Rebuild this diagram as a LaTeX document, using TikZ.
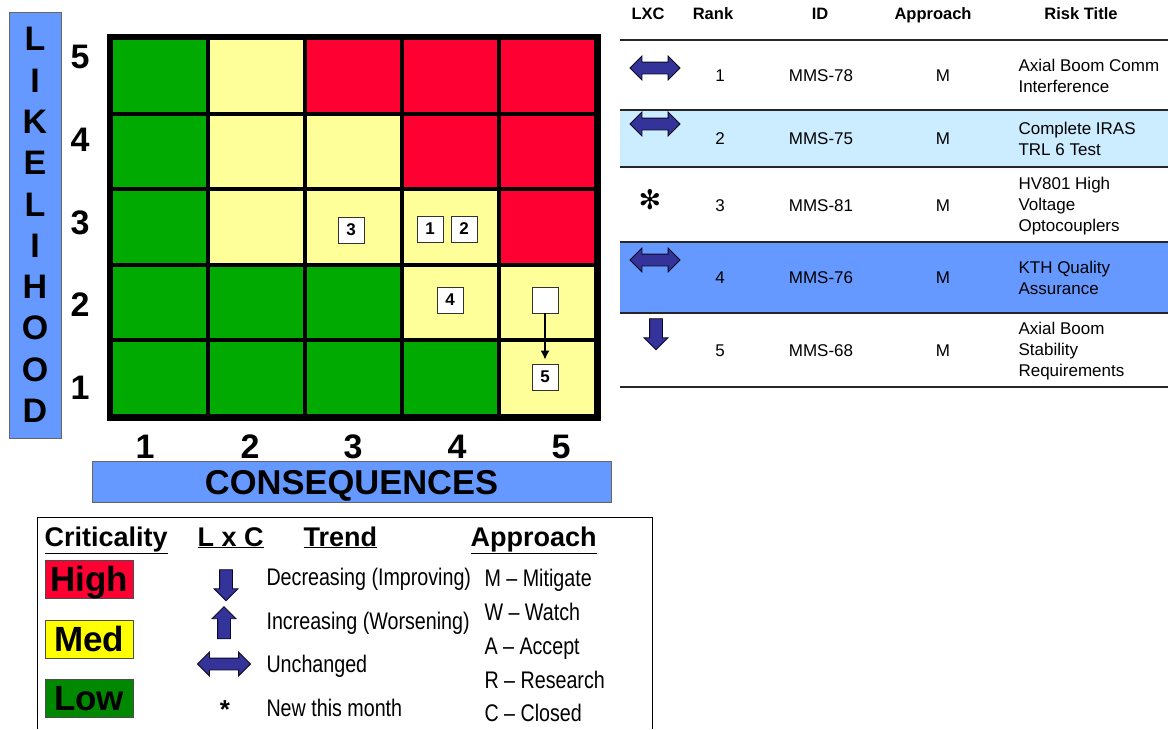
\documentclass[tikz,border=0pt]{standalone}
\usepackage{fontspec}
\setmainfont{Liberation Sans}
\newfontfamily\narrowfont[FakeStretch=0.82]{Liberation Sans}
\newfontfamily\symbolfont{DejaVu Sans}
\usetikzlibrary{shapes.arrows,arrows.meta,positioning}

\definecolor{lowc}{RGB}{0,170,0}
\definecolor{medc}{RGB}{255,255,153}
\definecolor{highc}{RGB}{255,0,51}
\definecolor{barblue}{RGB}{102,153,255}
\definecolor{paleblue}{RGB}{204,236,255}
\definecolor{trendc}{RGB}{51,51,153}
\definecolor{legyel}{RGB}{255,255,0}
\definecolor{leggrn}{RGB}{0,136,0}

\tikzset{
  cell/.style={draw=black, line width=4, minimum width=97, minimum height=75.6, inner sep=0},
  riskbox/.style={draw=black!80, fill=white, line width=0.8, minimum size=26, inner sep=0,
    font=\bfseries\fontsize{17}{17}\selectfont},
  axisnum/.style={font=\bfseries\fontsize{34}{34}\selectfont},
  axisbar/.style={draw=black!60, fill=barblue, line width=0.8, inner sep=0},
  thead/.style={font=\bfseries\fontsize{16.5}{16.5}\selectfont, anchor=base},
  tcell/.style={font=\fontsize{17}{21}\selectfont},
  rule/.style={draw=black!85, line width=1.8},
  trend/.style={draw=black!80!trendc, fill=trendc, line width=0.8, inner xsep=0},
  harrow/.style={trend, double arrow, double arrow head extend=6, inner ysep=5.5, minimum height=50},
  varrow/.style={trend, single arrow, single arrow head extend=5.5, inner ysep=6, minimum height=31},
  lhead/.style={font=\bfseries\fontsize{27}{27}\selectfont, anchor=base west},
  critbox/.style={draw=black!70, line width=1, minimum width=88, minimum height=38, inner sep=0,
    text height=25, text depth=0, font=\bfseries\fontsize{35}{35}\selectfont},
  ltext/.style={font=\narrowfont\fontsize{24}{24}\selectfont, anchor=base west},
}

\begin{document}
\begin{tikzpicture}[x=1pt, y=-1pt]
  \useasboundingbox (0,0) rectangle (1168,729);

  \foreach \r/\colors in {5/{lowc,medc,highc,highc,highc},
                          4/{lowc,medc,medc,highc,highc},
                          3/{lowc,medc,medc,medc,highc},
                          2/{lowc,lowc,lowc,medc,medc},
                          1/{lowc,lowc,lowc,lowc,medc}}{
    \foreach \c [count=\x] in \colors
      \node[cell, fill=\c] (cell\x\r) at ({111+97*(\x-0.5)},{416-75.6*(\r-0.5)}) {};
  }
  \draw[line width=5] (cell15.north west) rectangle (cell51.south east);

  \node[riskbox] (risk3) at (351,230) {3};
  \node[riskbox] (risk1) at (430,229) {1};
  \node[riskbox] (risk2) at (464,229) {2};
  \node[riskbox] (risk4) at (450,300) {4};
  \node[riskbox] (old5)  at (545,300) {};
  \node[riskbox] (risk5) at (545,377) {5};
  \draw[line width=1.5, -{Latex[length=9,width=9]}, shorten >=4] (old5) -- (risk5);

  \node[axisbar, minimum width=52, minimum height=426, align=center,
        font=\bfseries\fontsize{34}{41.3}\selectfont] (likeli) at (35,225)
        {L\\I\\K\\E\\L\\I\\H\\O\\O\\D};
  \foreach \r/\y in {5/57,4/140,3/223,2/305,1/388}
    \node[axisnum] (lnum\r) at (80,\y) {\r};
  \foreach \c/\x in {1/145,2/250,3/353,4/457,5/561}
    \node[axisnum] (cnum\c) at (\x,447) {\c};
  \node[axisbar, minimum width=519, minimum height=41, text height=25, text depth=0,
        font=\bfseries\fontsize{34.5}{34.5}\selectfont] (conseq) at (351.5,481.5) {CONSEQUENCES};

  \node[thead] (hlxc)   at (648,19)  {LXC};
  \node[thead] (hrank)  at (713,19)  {Rank};
  \node[thead] (hid)    at (820,19)  {ID};
  \node[thead] (happr)  at (933,19)  {Approach};
  \node[thead] (htitle) at (1081,19) {Risk Title};

  \fill[paleblue] (620,110) rectangle (1168,167);
  \fill[barblue]  (620,242) rectangle (1168,313);
  \foreach \y in {40,110,167,242,313,387}
    \draw[rule] (620,\y) -- (1168,\y);

  \foreach \n/\y/\id/\title in {1/76/MMS-78/{Axial Boom Comm\\Interference},
                                2/139/MMS-75/{Complete IRAS\\TRL 6 Test},
                                3/206/MMS-81/{HV801 High\\Voltage\\Optocouplers},
                                4/278/MMS-76/{KTH Quality\\Assurance},
                                5/351/MMS-68/{Axial Boom\\Stability\\Requirements}}{
    \node[tcell] (rank\n) at (720,\y) {\n};
    \node[tcell] (id\n) at (821,\y) {\id};
    \node[tcell] (appr\n) at (943,\y) {M};
    \node[tcell, align=left, anchor=west] (title\n) at (1015,\y) {\title};
  }

  \node[harrow] (lxc1) at (655,68)  {};
  \node[harrow] (lxc2) at (655,124) {};
  \node[font=\symbolfont\fontsize{27}{27}\selectfont] (lxc3) at (650,200) {✻};
  \node[harrow] (lxc4) at (655,260) {};
  \node[varrow, rotate=-90] (lxc5) at (656,331) {};

  \draw[line width=1] (37,729) |- (652,517) -- (652,729);
  \node[lhead] (hcrit)  at (41,546)  {\underline{Criticality}};
  \node[lhead] (hlxcl)  at (194,546) {\underline{L x C}};
  \node[lhead] (htrend) at (300,546) {\underline{Trend}};
  \node[lhead] (happrl) at (467,546) {\underline{Approach}};

  \node[critbox, fill=highc]  (high) at (89,579) {High};
  \node[critbox, fill=legyel] (med)  at (89,639) {Med};
  \node[critbox, fill=leggrn] (low)  at (89,698) {Low};

  \node[varrow, rotate=-90, minimum height=31] (tdown) at (226,582) {};
  \node[varrow, rotate=90, minimum height=32]  (tup)   at (224,626) {};
  \node[harrow, minimum height=53]             (tsame) at (224,664) {};
  \node[font=\bfseries\fontsize{26}{26}\selectfont] (tnew) at (225,710) {*};

  \node[ltext] (ldec)  at (263,585) {Decreasing (Improving)};
  \node[ltext] (linc)  at (263,629) {Increasing (Worsening)};
  \node[ltext] (lunch) at (263,672) {Unchanged};
  \node[ltext] (lnew)  at (263,716) {New this month};

  \node[ltext] (amit) at (481,586) {M – Mitigate};
  \node[ltext] (awat) at (481,620) {W – Watch};
  \node[ltext] (aacc) at (481,654) {A – Accept};
  \node[ltext] (ares) at (481,688) {R – Research};
  \node[ltext] (aclo) at (481,721) {C – Closed};
\end{tikzpicture}
\end{document}
